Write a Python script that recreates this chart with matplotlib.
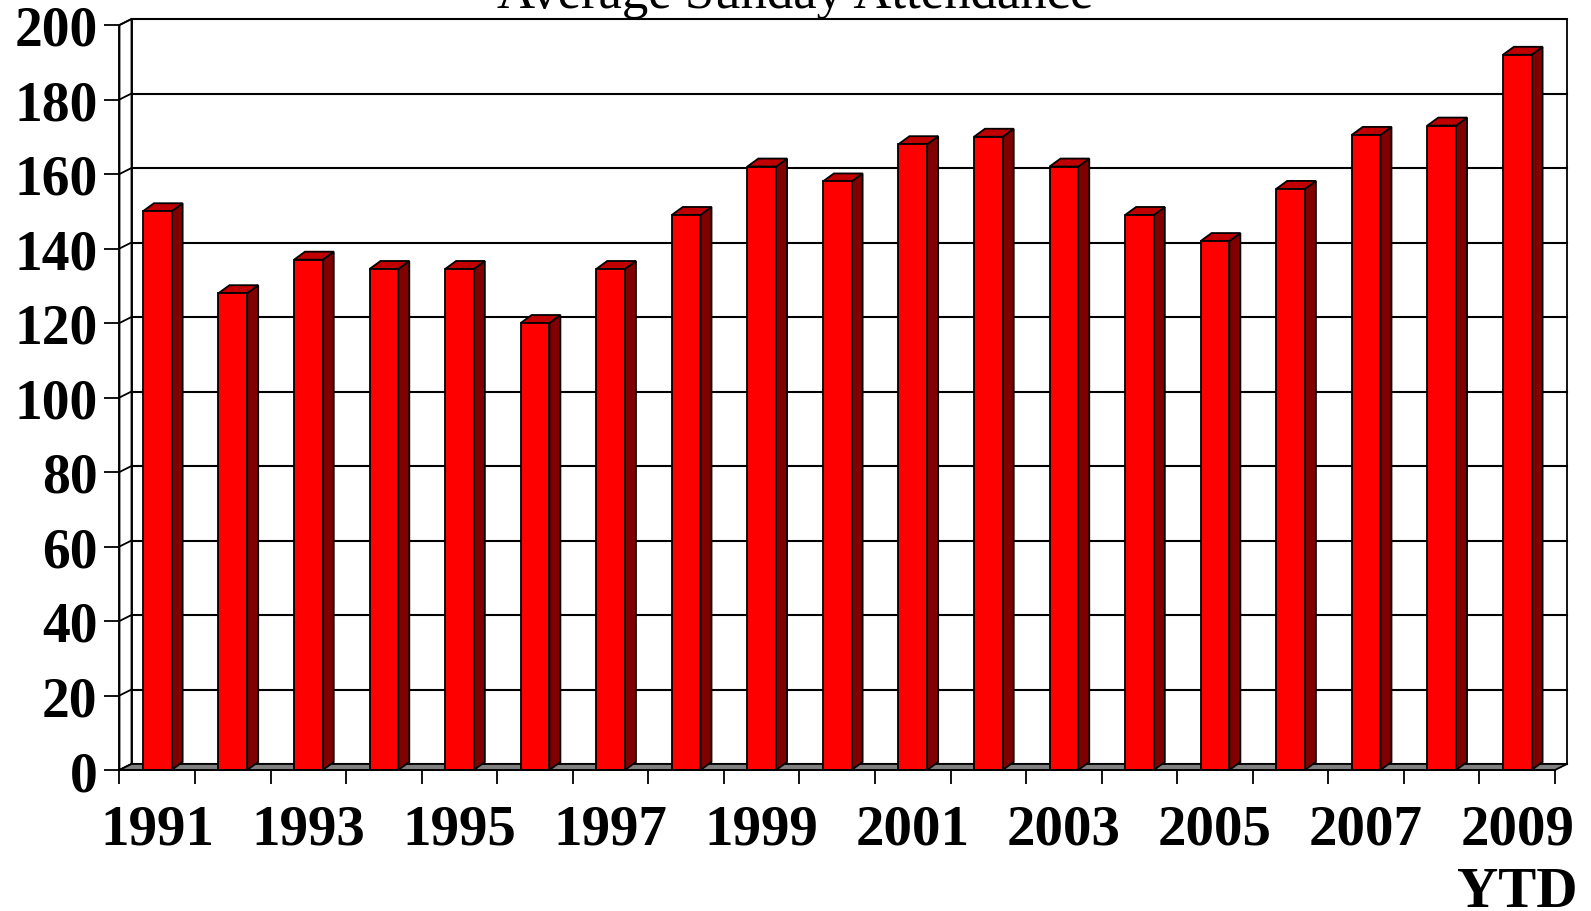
import matplotlib
matplotlib.use('Agg')
import matplotlib.pyplot as plt
from matplotlib.patches import Polygon
from matplotlib.ticker import FixedLocator

# ---- data ----
years = ['1991', '1992', '1993', '1994', '1995', '1996', '1997', '1998', '1999', '2000',
         '2001', '2002', '2003', '2004', '2005', '2006', '2007', '2008', '2009']
attendance = [150, 128, 137, 134.5, 134.5, 120, 134.5, 149, 162, 158,
              168, 170, 162, 149, 142, 156, 170.5, 173, 192]
x_labels = ['1991', '', '1993', '', '1995', '', '1997', '', '1999', '',
            '2001', '', '2003', '', '2005', '', '2007', '', '2009\nYTD']
y_ticks = [0, 20, 40, 60, 80, 100, 120, 140, 160, 180, 200]
title = 'Average Sunday Attendance'

FONT = 'Liberation Serif'
W, H = 1591, 912
fig = plt.figure(figsize=(W / 100, H / 100), dpi=100)
fig.patch.set_facecolor('white')

left_px, right_px = 119.5, 1555
bottom_px, top_px = 771, 26
ax = fig.add_axes([left_px / W, 1 - bottom_px / H,
                   (right_px - left_px) / W, (bottom_px - top_px) / H])
n = len(years)
ymax = y_ticks[-1]
ax.set_xlim(-0.5, n - 0.5)
ax.set_ylim(0, ymax)
ax.patch.set_visible(False)

px_x = (right_px - left_px) / n
px_y = (bottom_px - top_px) / ymax
wdx, wdy = 12 / px_x, 6 / px_y      # wall depth in data units
bdx, bdy = 11 / px_x, 8 / px_y      # bar depth in data units
lw = 1.3
x0, x1 = -0.5, n - 0.5

# back wall
ax.add_patch(Polygon([(x0 + wdx, wdy), (x1 + wdx, wdy), (x1 + wdx, ymax + wdy), (x0 + wdx, ymax + wdy)],
                     closed=True, facecolor='white', edgecolor='black', lw=lw, clip_on=False, zorder=1))
# left wall
ax.add_patch(Polygon([(x0, 0), (x0 + wdx, wdy), (x0 + wdx, ymax + wdy), (x0, ymax)],
                     closed=True, facecolor='white', edgecolor='black', lw=lw, clip_on=False, zorder=1))
for v in y_ticks:
    ax.plot([x0 + wdx, x1 + wdx], [v + wdy, v + wdy], color='black', lw=1.5, clip_on=False, zorder=1.5)
    ax.plot([x0, x0 + wdx], [v, v + wdy], color='black', lw=lw, clip_on=False, zorder=1.5)
# floor
ax.add_patch(Polygon([(x0, 0), (x1, 0), (x1 + wdx, wdy), (x0 + wdx, wdy)],
                     closed=True, facecolor='#808080', edgecolor='black', lw=lw, clip_on=False, zorder=2))

# bars
bw = 0.38
xs = list(range(n))
ax.bar(xs, attendance, width=bw, color='#FF0000', edgecolor='black', linewidth=lw, zorder=4, clip_on=False)
for xi, v in zip(xs, attendance):
    l, r = xi - bw / 2, xi + bw / 2
    ax.add_patch(Polygon([(r, 0), (r + bdx, bdy), (r + bdx, v + bdy), (r, v)], closed=True,
                         facecolor='#800000', edgecolor='black', lw=lw, clip_on=False, zorder=3.5))
    ax.add_patch(Polygon([(l, v), (r, v), (r + bdx, v + bdy), (l + bdx, v + bdy)], closed=True,
                         facecolor='#C00000', edgecolor='black', lw=lw, clip_on=False, zorder=3.5))

# spines / ticks
for s in ['top', 'right']:
    ax.spines[s].set_visible(False)
for s in ['left', 'bottom']:
    ax.spines[s].set_linewidth(lw)
    ax.spines[s].set_zorder(5)

ax.set_yticks(y_ticks)
ax.set_yticklabels([str(v) for v in y_ticks], fontfamily=FONT, fontweight='bold', fontsize=40)
ax.tick_params(axis='y', direction='out', length=10.8, width=lw, pad=5)

ax.xaxis.set_major_locator(FixedLocator([i - 0.5 for i in range(n + 1)]))
ax.xaxis.set_ticklabels([])
ax.tick_params(axis='x', which='major', direction='out', length=10, width=lw)
ax.xaxis.set_minor_locator(FixedLocator(xs))
ax.set_xticklabels(x_labels, minor=True, fontfamily=FONT, fontweight='bold', fontsize=41)
ax.tick_params(axis='x', which='minor', length=0, pad=24)
for t in ax.get_xticklabels(minor=True):
    t.set_linespacing(1.27)

fig.text(795 / W, 1 - 8 / H, title, ha='center', va='baseline',
         fontfamily=FONT, fontsize=38, color='black')

fig.savefig('out.png', dpi=100, facecolor='white')
